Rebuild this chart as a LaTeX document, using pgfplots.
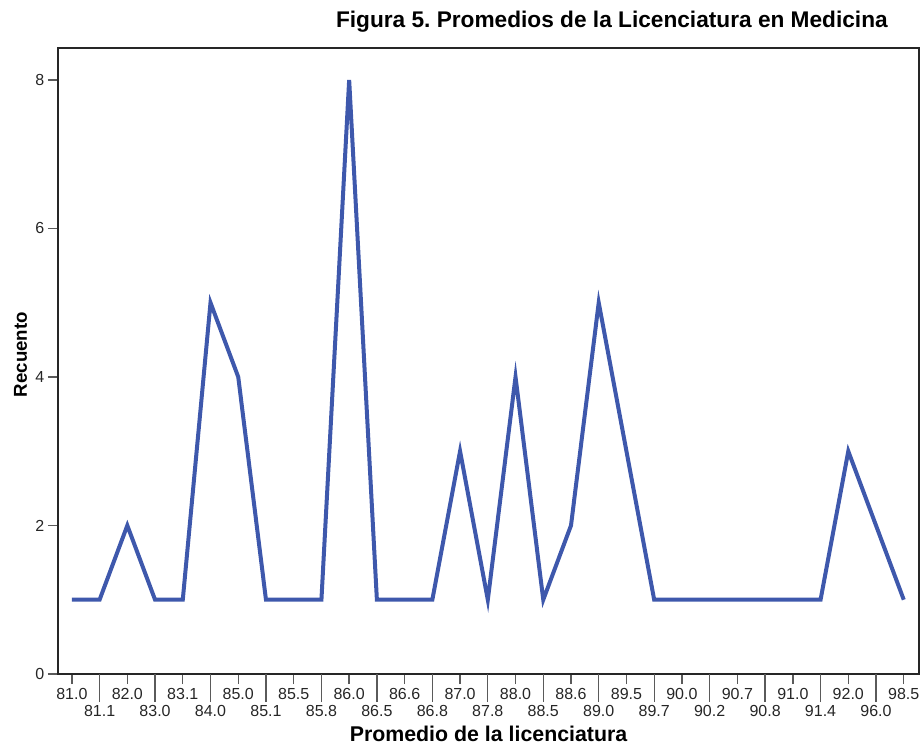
\documentclass[border=0pt]{standalone}
\usepackage{fontspec}
\setmainfont{Liberation Sans}
\usepackage{pgfplots}
\pgfplotsset{compat=1.18}
\definecolor{lineblue}{HTML}{3E58AC}
\definecolor{tickgray}{HTML}{5A5A5A}
\frenchspacing
\begin{document}
\begin{tikzpicture}
\path[use as bounding box] (-43.5pt,-54.75pt) rectangle (648pt,505.5pt);
\begin{axis}[
  at={(0pt,0pt)}, anchor=south west,
  scale only axis, width=645.75pt, height=469.5pt,
  xmin=-0.5, xmax=30.55, ymin=0, ymax=8.43,
  axis line style={draw=black!85, line width=0.9pt},
  tick pos=left, tick align=outside,
  major tick length=7.5pt,
  tick style={draw=tickgray, line width=1pt},
  /pgf/number format/assume math mode=true,
  xtick={0,1,...,30},
  xticklabels={81.0,\raisebox{-12.75pt}{81.1},82.0,\raisebox{-12.75pt}{83.0},83.1,\raisebox{-12.75pt}{84.0},85.0,\raisebox{-12.75pt}{85.1},85.5,\raisebox{-12.75pt}{85.8},86.0,\raisebox{-12.75pt}{86.5},86.6,\raisebox{-12.75pt}{86.8},87.0,\raisebox{-12.75pt}{87.8},88.0,\raisebox{-12.75pt}{88.5},88.6,\raisebox{-12.75pt}{89.0},89.5,\raisebox{-12.75pt}{89.7},90.0,\raisebox{-12.75pt}{90.2},90.7,\raisebox{-12.75pt}{90.8},91.0,\raisebox{-12.75pt}{91.4},92.0,\raisebox{-12.75pt}{96.0},98.5},
  xticklabel style={anchor=base, yshift=-11.25pt, inner sep=0pt, font=\fontsize{12}{14}\selectfont, text=black!85},
  extra x ticks={1,3,...,29},
  extra x tick labels={},
  extra x tick style={major tick length=21pt},
  ytick={0,2,4,6,8},
  yticklabel style={anchor=east, inner sep=0pt, xshift=-2.5pt, font=\fontsize{12}{14}\selectfont, text=black!85},
  clip=false,
]
\addplot[lineblue, line width=3pt, line join=miter, miter limit=10] coordinates {
(0,1) (1,1) (2,2) (3,1) (4,1) (5,5) (6,4) (7,1) (8,1) (9,1)
(10,8) (11,1) (12,1) (13,1) (14,3) (15,1) (16,4) (17,1) (18,2) (19,5)
(20,3) (21,1) (22,1) (23,1) (24,1) (25,1) (26,1) (27,1) (28,3) (29,2) (30,1)
};
\end{axis}
\node[anchor=base east, inner sep=0pt, font=\fontsize{17}{19}\selectfont\bfseries] at (622.5pt,484.5pt) {Figura 5. Promedios de la Licenciatura en Medicina};
\node[anchor=base, inner sep=0pt, font=\fontsize{16}{18}\selectfont\bfseries] at (322.9pt,-50.25pt) {Promedio de la licenciatura};
\node[anchor=base, rotate=90, inner sep=0pt, font=\fontsize{14}{16}\selectfont\bfseries] at (-23.25pt,239.6pt) {Recuento};
\end{tikzpicture}
\end{document}
